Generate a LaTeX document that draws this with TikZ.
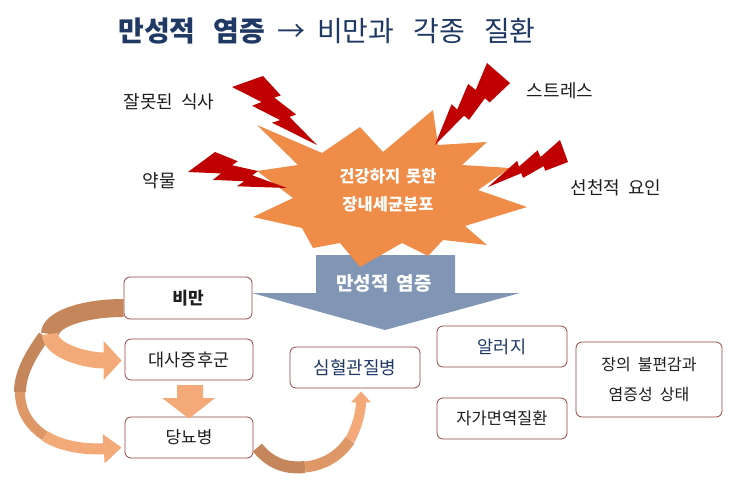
\documentclass[tikz,border=0pt]{standalone}
\usepackage{fontspec}
\setmainfont{Noto Sans CJK KR}
\usetikzlibrary{arrows.meta,calc}
\definecolor{navy}{RGB}{31,56,100}
\definecolor{boxline}{RGB}{150,70,70}
\definecolor{burstorange}{RGB}{238,140,72}
\definecolor{boltred}{RGB}{192,0,0}
\definecolor{slate}{RGB}{128,150,180}
\definecolor{banddark}{RGB}{196,134,90}
\definecolor{bandmid}{RGB}{222,152,104}
\definecolor{bandlight}{RGB}{244,170,120}
\definecolor{txt}{RGB}{30,30,30}
\newcommand\gp[1]{\hspace{#1}}
\newcommand\lbolt[3]{\fill[boltred] ($#1+0.392*#2$) -- ($#1+0.595*#2+0.281*#3$) -- ($#1+0.512*#2+0.315*#3$) -- ($#1+0.767*#2+0.556*#3$) -- ($#1+0.684*#2+0.596*#3$) -- ($#1+#2+#3$) -- ($#1+0.464*#2+0.691*#3$) -- ($#1+0.566*#2+0.648*#3$) -- ($#1+0.232*#2+0.449*#3$) -- ($#1+0.352*#2+0.388*#3$) -- ($#1+0.18*#3$) -- cycle;}
\tikzset{
  lab/.style={text=txt, font=\fontsize{18}{20}\selectfont, inner sep=0},
  box/.style={draw=boxline, line width=0.8pt, rounded corners=6pt, fill=white, inner sep=0, text=txt, font=\fontsize{17}{30}\selectfont},
  band/.style={line width=#1},
}
\begin{document}
\begin{tikzpicture}[x=1pt,y=1pt]
\fill[white] (0,0) rectangle (743,-494);
\useasboundingbox (0,0) rectangle (743,-494);
% title
\node[font=\fontsize{28}{30}\selectfont, text=navy, inner sep=0] (title) at (327,-31) {\textbf{만성적\gp{18pt}염증}\gp{12pt}→\gp{12pt}비만과\gp{19pt}각종\gp{19pt}질환};
% labels
\node[lab] (l1) at (169,-102) {잘못된\gp{8pt}식사};
\node[lab] (l2) at (159,-181) {약물};
\node[lab] (l3) at (560,-91) {스트레스};
\node[lab] (l4) at (616,-188) {선천적\gp{8pt}요인};
% blue arrow
\fill[slate] (316,-255) -- (455,-255) -- (455,-293) -- (520,-293) -- (385,-330) -- (252,-293) -- (316,-293) -- cycle;
\node[text=white, font=\bfseries\fontsize{19}{20}\selectfont, inner sep=0] (inf) at (384,-283) {만성적\gp{8pt}염증};
% burst
\fill[burstorange] (257,-125) -- (322,-153) -- (360,-127) -- (383,-152) -- (433,-110) -- (438,-145) -- (487,-142) -- (462,-165) -- (510,-168) -- (478,-190) -- (527,-207) -- (465,-226) -- (487,-245) -- (443,-240) -- (428,-256) -- (402,-243) -- (360,-267) -- (340,-243) -- (313,-248) -- (302,-228) -- (253,-217) -- (293,-198) -- (257,-171) -- (298,-165) -- cycle;
\node[text=white, font=\bfseries\fontsize{16.5}{28}\selectfont, align=center, inner sep=0] (burst) at (388,-190) {건강하지\gp{6pt}못한\\장내세균분포};
% bolts
\lbolt{(231.2,-74.9)}{(81.2,-2.8)}{(4.63,-67.3)}
\lbolt{(183.8,-162.6)}{(79.7,27)}{(23.5,-52.4)}
\lbolt{(502.6,-58.7)}{(19,-62.2)}{(-86.6,-24.1)}
\lbolt{(573,-141.3)}{(-12.8,-52.9)}{(-72.2,7.2)}
% boxes
\node[box, minimum width=128, minimum height=42, font=\bfseries\fontsize{17}{30}\selectfont] (bm) at (188,-298) {비만};
\node[box, minimum width=128, minimum height=41, font=\fontsize{17.5}{30}\selectfont] (ms) at (189,-359.5) {대사증후군};
\node[box, minimum width=128, minimum height=41] (db) at (189,-437.5) {당뇨병};
\node[box, minimum width=130, minimum height=41, text=navy, font=\fontsize{18}{30}\selectfont] (sh) at (355,-367.5) {심혈관질병};
\node[box, minimum width=130, minimum height=41, text=navy, font=\fontsize{17.5}{30}\selectfont] (al) at (502,-346.5) {알러지};
\node[box, minimum width=130, minimum height=41, font=\fontsize{16.5}{30}\selectfont] (ja) at (502,-418.5) {자가면역질환};
\node[box, minimum width=146, minimum height=75, align=center, font=\fontsize{16}{30}\selectfont] (gut) at (649,-379.5) {장의\gp{7pt}불편감과\\염증성\gp{7pt}상태};
% down block arrow
\fill[bandlight] ([xshift=-12]ms.south |- 0,-385) -- ([xshift=14]ms.south |- 0,-385) -- ([xshift=14]ms.south |- 0,-398) -- ([xshift=26]ms.south |- 0,-398) -- ([yshift=-2]db.north) -- ([xshift=-27]ms.south |- 0,-398) -- ([xshift=-12]ms.south |- 0,-398) -- cycle;
% big arc bm -> db
\coordinate (p0) at (44,-336);
\coordinate (p1) at (20,-392);
\coordinate (p2) at (45,-436);
\draw[band=12, banddark] (p0) .. controls (32,-353) and (20,-372) .. (p1);
\draw[band=10, bandmid] (p1) .. controls (20,-412) and (30,-426) .. (p2);
\draw[band=11, bandlight, -{Triangle[length=18pt,width=28pt]}] (p2) .. controls (60,-446) and (85,-450) .. ([xshift=-3,yshift=-10]db.west);
% loop arrow bm -> ms
\coordinate (tw1) at (50,-334);
\draw[band=18, banddark] ([yshift=-10]bm.west) .. controls +(-42,0) and +(0,14) .. (tw1);
\draw[band=16, bandlight, -{Triangle[length=18pt,width=38pt]}] (tw1) .. controls +(0,-16) and +(-38,0) .. ([xshift=-3,yshift=-1]ms.west);
% arc db -> sh
\coordinate (q1) at (305,-467);
\coordinate (q2) at (350,-440);
\draw[band=12, banddark] ([xshift=4,yshift=-10]db.east) .. controls (270,-463) and (285,-469) .. (q1);
\draw[band=11, bandmid] (q1) .. controls (325,-465) and (340,-455) .. (q2);
\draw[band=10, bandlight, -{Triangle[length=11pt,width=19pt]}] (q2) .. controls (358,-425) and (361,-410) .. ([xshift=6,yshift=-3]sh.south);
\end{tikzpicture}
\end{document}
